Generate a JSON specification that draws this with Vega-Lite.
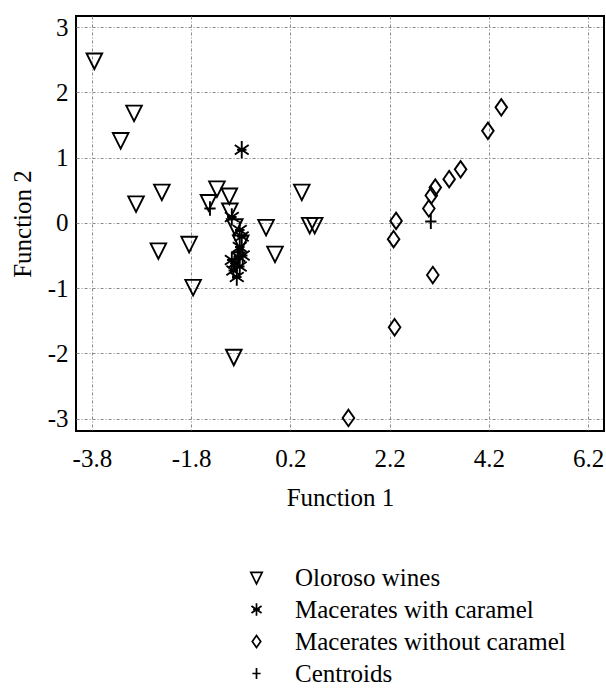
{
  "$schema": "https://vega.github.io/schema/vega-lite/v6.json",
  "autosize": "none",
  "width": 528,
  "height": 415,
  "padding": {"left": 76, "top": 16, "right": 2, "bottom": 257},
  "background": "white",
  "config": {
    "font": "Liberation Serif",
    "view": {"stroke": "black", "strokeWidth": 2},
    "axis": {"labelFont": "Liberation Serif", "titleFont": "Liberation Serif", "labelColor": "black", "titleColor": "black", "labelFontSize": 25, "titleFontSize": 25, "titleFontWeight": "normal", "ticks": false, "domain": false, "grid": true, "gridColor": "#888", "gridDash": [3, 2, 1, 2], "gridWidth": 1},
    "legend": {"labelFont": "Liberation Serif", "labelFontSize": 25, "labelColor": "black", "labelLimit": 400}
  },
  "data": {"values": [
    {"f1": -3.75, "f2": 2.49, "group": "Oloroso wines"},
    {"f1": -2.95, "f2": 1.69, "group": "Oloroso wines"},
    {"f1": -3.22, "f2": 1.27, "group": "Oloroso wines"},
    {"f1": -2.91, "f2": 0.30, "group": "Oloroso wines"},
    {"f1": -2.39, "f2": 0.48, "group": "Oloroso wines"},
    {"f1": -1.28, "f2": 0.53, "group": "Oloroso wines"},
    {"f1": -1.45, "f2": 0.32, "group": "Oloroso wines"},
    {"f1": -1.03, "f2": 0.42, "group": "Oloroso wines"},
    {"f1": -1.02, "f2": 0.19, "group": "Oloroso wines"},
    {"f1": -0.29, "f2": -0.06, "group": "Oloroso wines"},
    {"f1": 0.43, "f2": 0.48, "group": "Oloroso wines"},
    {"f1": 0.59, "f2": -0.03, "group": "Oloroso wines"},
    {"f1": 0.69, "f2": -0.03, "group": "Oloroso wines"},
    {"f1": -2.46, "f2": -0.42, "group": "Oloroso wines"},
    {"f1": -1.84, "f2": -0.32, "group": "Oloroso wines"},
    {"f1": -0.11, "f2": -0.47, "group": "Oloroso wines"},
    {"f1": -1.76, "f2": -0.98, "group": "Oloroso wines"},
    {"f1": -0.94, "f2": -2.05, "group": "Oloroso wines"},
    {"f1": -0.92, "f2": -0.05, "group": "Oloroso wines"},
    {"f1": -0.8, "f2": -0.3, "group": "Oloroso wines"},
    {"f1": -0.78, "f2": 1.12, "group": "Macerates with caramel"},
    {"f1": -0.98, "f2": 0.09, "group": "Macerates with caramel"},
    {"f1": -0.82, "f2": -0.11, "group": "Macerates with caramel"},
    {"f1": -0.78, "f2": -0.21, "group": "Macerates with caramel"},
    {"f1": -0.82, "f2": -0.37, "group": "Macerates with caramel"},
    {"f1": -0.85, "f2": -0.52, "group": "Macerates with caramel"},
    {"f1": -0.92, "f2": -0.62, "group": "Macerates with caramel"},
    {"f1": -0.95, "f2": -0.73, "group": "Macerates with caramel"},
    {"f1": -0.88, "f2": -0.83, "group": "Macerates with caramel"},
    {"f1": -0.82, "f2": -0.67, "group": "Macerates with caramel"},
    {"f1": -0.98, "f2": -0.57, "group": "Macerates with caramel"},
    {"f1": -0.76, "f2": -0.5, "group": "Macerates with caramel"},
    {"f1": 4.45, "f2": 1.77, "group": "Macerates without caramel"},
    {"f1": 4.18, "f2": 1.41, "group": "Macerates without caramel"},
    {"f1": 3.63, "f2": 0.82, "group": "Macerates without caramel"},
    {"f1": 3.40, "f2": 0.67, "group": "Macerates without caramel"},
    {"f1": 3.12, "f2": 0.54, "group": "Macerates without caramel"},
    {"f1": 3.04, "f2": 0.42, "group": "Macerates without caramel"},
    {"f1": 2.99, "f2": 0.22, "group": "Macerates without caramel"},
    {"f1": 2.33, "f2": 0.03, "group": "Macerates without caramel"},
    {"f1": 2.28, "f2": -0.25, "group": "Macerates without caramel"},
    {"f1": 3.07, "f2": -0.80, "group": "Macerates without caramel"},
    {"f1": 2.30, "f2": -1.60, "group": "Macerates without caramel"},
    {"f1": 1.37, "f2": -2.99, "group": "Macerates without caramel"},
    {"f1": -1.42, "f2": 0.22, "group": "Centroids"},
    {"f1": -0.86, "f2": -0.45, "group": "Centroids"},
    {"f1": 3.03, "f2": 0.02, "group": "Centroids"}
  ]},
  "mark": {"type": "point", "filled": false, "stroke": "black", "strokeWidth": 1.9, "opacity": 1, "size": 300},
  "encoding": {
    "x": {"field": "f1", "type": "quantitative", "title": "Function 1",
      "scale": {"domain": [-4.12, 6.52], "nice": false, "zero": false},
      "axis": {"values": [-3.8, -1.8, 0.2, 2.2, 4.2, 6.2], "labelExpr": "datum.value < 0 ? '-' + format(-datum.value, '.1f') : format(datum.value, '.1f')", "labelPadding": 15, "titlePadding": 14, "labelFlush": false}},
    "y": {"field": "f2", "type": "quantitative", "title": "Function 2",
      "scale": {"domain": [-3.19, 3.17], "nice": false, "zero": false},
      "axis": {"values": [-3, -2, -1, 0, 1, 2, 3], "labelExpr": "datum.value < 0 ? '-' + format(-datum.value, 'd') : format(datum.value, 'd')", "labelPadding": 8, "titlePadding": 12}},
    "shape": {"field": "group", "type": "nominal",
      "scale": {"domain": ["Oloroso wines", "Macerates with caramel", "Macerates without caramel", "Centroids"],
        "range": ["M-0.9,-0.8L0.9,-0.8L0,1Z", "M0,-1L0,1M-0.8,-0.55L0.8,0.55M-0.8,0.55L0.8,-0.55M-0.55,0L0.55,0", "M0,-0.95L0.67,0L0,0.95L-0.67,0Z", "M0,-0.85L0,0.85M-0.65,0L0.65,0"]},
      "legend": {"title": null, "orient": "none", "legendX": 168, "legendY": 549, "symbolSize": 160, "symbolStrokeWidth": 1.7, "symbolStrokeColor": "black", "symbolFillColor": "transparent", "labelOffset": 26, "rowPadding": 6, "padding": 0}}
  }
}
